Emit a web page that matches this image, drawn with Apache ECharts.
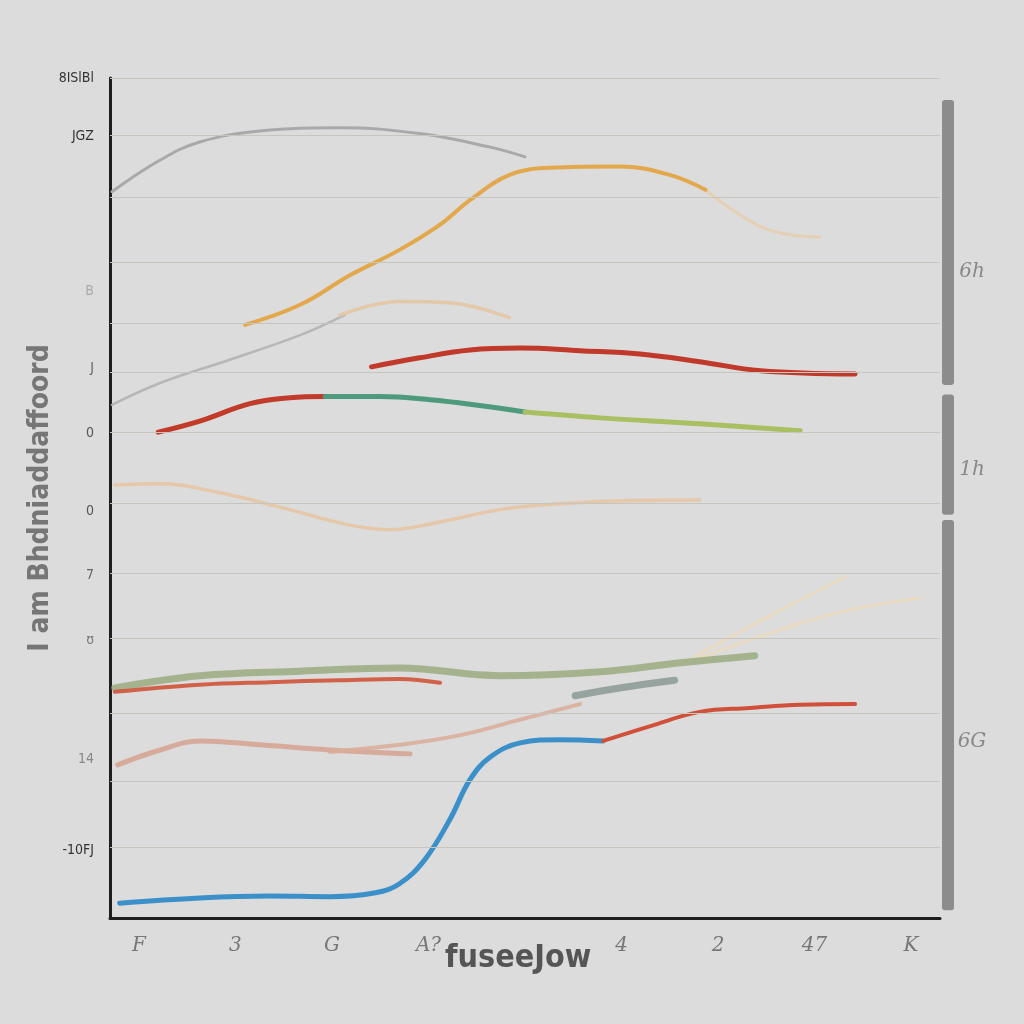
<!DOCTYPE html>
<html><head><meta charset="utf-8">
<script src="https://cdn.jsdelivr.net/npm/echarts@6/dist/echarts.min.js"></script>
<style>html,body{margin:0;background:#dcdcdc}#c{width:1024px;height:1024px}</style>
</head><body><div id="c"></div>
<script>
// ---- data ----
const xTickValues = [0,1,2,3,4,5,6,7,8];
const xTickLabels = ["F","3","G","A?","","4","2","47","K"];
const yTickValues = [1.04,2.45,4.3,5.3,6.3,7.5,8.5,9.7,12.1,13];
const yTickLabels = ["-10FJ","14","ʊ","7","0","0","J","B","JGZ","8ISlBl"];
const yTickColors = ["#333","#888","#777","#666","#555","#555","#666","#aaa","#333","#333"];
const gridValues = [1.10,2.11,3.17,4.33,5.34,6.42,7.51,8.44,9.21,10.15,11.15,12.12,13.0];

const grayTop = [[-0.28,11.24],[0.22,11.73],[0.63,12.01],[1.25,12.18],[2.08,12.23],[2.91,12.14],[3.64,11.93],[4.0,11.78]];
const orange = [[1.10,9.18],[1.67,9.49],[2.19,9.95],[2.70,10.34],[3.12,10.73],[3.43,11.11],[3.84,11.50],[4.26,11.61],[4.98,11.63],[5.50,11.50],[5.87,11.27]];
const orangeTail = [[5.87,11.27],[6.23,10.88],[6.59,10.62],[7.06,10.54]];
const grayLow = [[-0.28,7.94],[0.22,8.28],[0.94,8.64],[1.67,9.02],[2.13,9.33]];
const peachArc = [[2.08,9.33],[2.70,9.54],[3.22,9.52],[3.84,9.29]];
const redUpper = [[2.41,8.53],[2.91,8.67],[3.43,8.79],[3.95,8.82],[4.57,8.78],[5.19,8.73],[5.81,8.61],[6.44,8.47],[7.42,8.42]];
const redMid = [[0.20,7.52],[0.63,7.69],[1.15,7.96],[1.56,8.05],[1.93,8.07]];
const tealMid = [[1.93,8.07],[2.50,8.07],[3.02,8.02],[3.53,7.93],[4.0,7.83]];
const greenMid = [[4.0,7.83],[4.78,7.74],[5.81,7.65],[6.85,7.54]];
const peachWave = [[-0.25,6.70],[0.22,6.72],[0.84,6.58],[1.56,6.32],[2.19,6.08],[2.60,6.01],[3.12,6.13],[3.74,6.32],[4.36,6.41],[5.09,6.46],[5.81,6.47]];
const sage = [[-0.25,3.56],[0.63,3.75],[1.67,3.82],[2.70,3.87],[3.74,3.75],[4.78,3.81],[5.61,3.95],[6.38,4.06]];
const redCluster = [[-0.25,3.50],[0.63,3.61],[1.36,3.65],[2.08,3.68],[2.70,3.70],[3.12,3.64]];
const grayCluster = [[4.52,3.44],[4.98,3.56],[5.55,3.68]];
const lightRise1 = [[5.61,3.92],[6.23,4.43],[6.85,4.92],[7.32,5.28]];
const lightRise2 = [[5.81,4.02],[6.64,4.46],[7.37,4.77],[8.09,4.95]];
const pink1 = [[-0.22,2.37],[0.22,2.60],[0.63,2.74],[1.25,2.68],[1.98,2.60],[2.81,2.54]];
const pink2 = [[1.98,2.57],[2.70,2.68],[3.33,2.83],[3.95,3.07],[4.57,3.31]];
const blue = [[-0.20,0.23],[0.63,0.31],[1.36,0.34],[1.98,0.33],[2.45,0.39],[2.70,0.53],[2.96,0.90],[3.22,1.52],[3.43,2.14],[3.64,2.49],[3.95,2.71],[4.36,2.76],[4.81,2.74]];
const redLow = [[4.81,2.74],[5.30,2.97],[5.81,3.19],[6.33,3.25],[6.85,3.30],[7.42,3.31]];

const sideSegments = [[12.66,8.25,10.0,"6h"],[8.10,6.24,6.93,"1h"],[6.16,0.12,2.72,"6G"]];

// ---- chart ----
const chart = echarts.init(document.getElementById('c'));
function line(data, color, width, opacity, z) {
  return {type:'line', data, smooth:0.4, symbol:'none', z: z||3,
    lineStyle:{color, width, opacity: opacity==null?1:opacity, cap:'round'}};
}
const series = [
  {type:'line', data:[], symbol:'none', z:1,
    markLine:{silent:true, symbol:['none','none'], symbolSize:0, label:{show:false},
      lineStyle:{color:'#c6c6bf', width:1, type:'solid'},
      data: gridValues.map(v=>({yAxis:v}))}},
  line(grayTop,'#a9a9a9',3,1),
  line(orangeTail,'#e6cdb0',3,0.9),
  line(orange,'#e3a84c',4,1),
  line(grayLow,'#b3b3b3',2.5,0.9),
  line(peachArc,'#e4c5a4',3.5,0.9),
  line(redUpper,'#c0392b',5,1),
  line(redMid,'#c23a2a',5,1),
  line(tealMid,'#4e9a7c',5,1),
  line(greenMid,'#a9c062',5,1),
  line(peachWave,'#e6c4a0',3.5,0.85),
  line(lightRise1,'#eadbbf',3,0.9),
  line(lightRise2,'#eadbbf',3,0.9),
  line(sage,'#9aab80',7,0.85),
  line(redCluster,'#d0533a',4,0.9),
  line(grayCluster,'#8e9c98',7,0.9),
  line(pink1,'#d6a594',5,0.9),
  line(pink2,'#d9ab98',4,0.85),
  line(blue,'#3b90c9',5,1,4),
  line(redLow,'#d0503a',4,1,4),
  {type:'custom', clip:false, z:5, data: sideSegments,
    renderItem: function(params, api){
      const top = api.coord([8.3, api.value(0)]);
      const bot = api.coord([8.3, api.value(1)]);
      const lab = api.coord([8.3, api.value(2)]);
      return {type:'group', children:[
        {type:'rect', shape:{x:top[0]+2, y:top[1], width:12, height:bot[1]-top[1], r:3},
          style:{fill:'#8c8c8c'}},
        {type:'text', style:{text: sideSegments[params.dataIndex][3], x: lab[0]+32, y: lab[1],
          align:'center', verticalAlign:'middle', fill:'#888', fontSize:20, fontStyle:'italic',
          fontFamily:'DejaVu Serif'}}
      ]};
    }
  }
];

chart.setOption({
  backgroundColor:'#dcdcdc',
  animation:false,
  title:{text:'fuseeJow', left:440, top:938,
    textStyle:{fontSize:32, fontWeight:'bold', color:'#555', fontFamily:'DejaVu Sans Condensed'}},
  grid:{left:110, right:84, top:78, bottom:106},
  xAxis:{type:'value', min:-0.3, max:8.3,
    axisLine:{show:true, onZero:false, lineStyle:{color:'#1e1e1e', width:3}},
    axisTick:{show:false}, minorTick:{show:false},
    splitLine:{show:false},
    axisLabel:{customValues:xTickValues, formatter:(v)=>xTickLabels[xTickValues.indexOf(Math.round(v))]||'',
      color:'#777', fontSize:20, margin:18, fontFamily:'DejaVu Serif', fontStyle:'italic'}},
  yAxis:{type:'value', min:0, max:13,
    name:'I am Bhdniaddaffoord', nameLocation:'middle', nameGap:55, nameRotate:90, nameMoveOverlap:false,
    nameTextStyle:{fontSize:28, fontWeight:'bold', color:'#767676', fontFamily:'DejaVu Sans Condensed'},
    axisLine:{show:true, onZero:false, lineStyle:{color:'#1e1e1e', width:3}},
    axisTick:{show:false}, minorTick:{show:false},
    splitLine:{show:false},
    axisLabel:{customValues:yTickValues,
      formatter:(v)=>{const i=yTickValues.findIndex(t=>Math.abs(t-v)<1e-6); return i>=0?yTickLabels[i]:'';},
      color:(v)=>{const i=yTickValues.findIndex(t=>Math.abs(t-v)<1e-6); return i>=0?yTickColors[i]:'#555';},
      fontSize:14, margin:16, fontFamily:'DejaVu Sans Condensed'}},
  series
});
</script></body></html>
